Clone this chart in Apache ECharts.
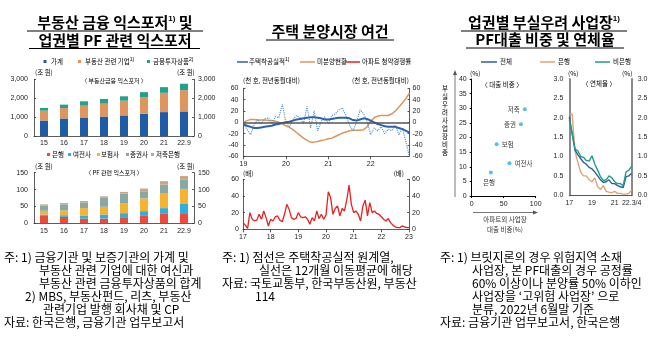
<!DOCTYPE html>
<html><head><meta charset="utf-8">
<script src="https://cdn.jsdelivr.net/npm/echarts@6/dist/echarts.min.js"></script>
<style>html,body{margin:0;padding:0;background:#fff}#c{width:660px;height:337px}</style>
</head><body><div id="c"></div>
<script>
const NF = "'Liberation Sans','Noto Sans CJK KR',sans-serif";
const KF = "'Noto Sans CJK KR','Liberation Sans',sans-serif";

// ---------- Panel 1 data ----------
const expYears = ['15','16','17','18','19','20','21','22.9'];
const household = [820, 930, 980, 1030, 1090, 1180, 1265, 1300];
const reCorp    = [520, 550, 625, 680, 780, 870, 1020, 1125];
const finInv    = [145, 180, 230, 250, 230, 270, 300, 340];
const pfBank = [22, 19, 14, 14, 18, 22, 28, 30];
const pfCard = [4, 5, 8, 12, 12, 14, 17, 29];
const pfIns  = [11, 14, 23, 23, 30, 38, 43, 43];
const pfSec  = [16, 18, 17, 28, 28, 21, 27, 28];
const pfSav  = [3, 4, 4, 3, 5, 8, 10, 10];

// ---------- Panel 2 data (monthly 2019.1 - 2022.12) ----------
const startsRaw = [-3,-12,-22,-5,5,-3,6,8,-2,10,8,32, 0,-8,5,12,8,-2,28,-10,20,-15,2,10,
                   -2,12,15,22,25,12,-5,-15,0,22,15,2, -22,-10,-15,-8,-20,-12,-15,-5,-22,-10,-35,-62];
const startsMA  = [-4,-6,-8,-10,-10,-9,-8,-7,-6,-4,-3,-1, 0,1,3,5,6,7,8,9,9,8,7,5,
                   5,6,7,8,8,8,7,4,3,5,7,6, 3,0,-3,-5,-7,-8,-8,-8,-10,-12,-15,-18];
const unsold    = [0,3,5,5,4,4,4,3,3,2,0,-3, -6,-9,-13,-18,-23,-28,-32,-35,-35,-34,-32,-31,
                   -29,-28,-25,-22,-19,-17,-15,-14,-14,-14,-13,-8, 2,8,11,12,12,12,15,20,27,34,42,52];
// 아파트 청약경쟁률 (monthly 2017.1 - 2023.1)
const aptComp = [8,5,1,20,12,10,11,18,12,22,14,4, 12,10,15,16,11,9,18,30,24,14,12,13,
                 20,15,14,15,12,6,14,10,22,13,18,12, 17,45,38,18,25,28,16,25,22,35,53,30,
                 20,22,18,10,28,35,16,32,20,22,19,18, 15,12,10,13,8,5,3,2,2,4,3,2, 2];

// ---------- Panel 3 data ----------
const riskNames = ['저축','증권','보험','여전사','은행'];
const aptExShare = [83, 77, 39, 59, 30];
const riskShare  = [29.7, 24.5, 17.7, 11.2, 8.0];
const delqQuarters = ['17.1','17.2','17.3','17.4','18.1','18.2','18.3','18.4','19.1','19.2','19.3','19.4',
                      '20.1','20.2','20.3','20.4','21.1','21.2','21.3','21.4','22.1','22.2','22.3'];
const delqTotal = [2.02,1.6,1.17,1.05,0.95,0.85,0.8,0.72,0.68,0.6,0.5,0.4,0.33,0.35,0.4,0.3,0.3,0.25,0.22,0.2,0.48,0.5,0.57];
const delqBank  = [2.1,2.1,1.15,0.85,0.6,0.5,0.5,0.4,0.35,0.45,0.22,0.15,0.25,0.1,0.08,0.07,0.1,0.05,0.05,0.03,0.03,0.05,0.14];
const delqNonBk = [1.95,1.6,1.2,1.15,1.0,0.98,0.9,0.88,1.02,0.8,0.65,0.48,0.38,0.4,0.5,0.45,0.35,0.3,0.3,0.25,0.6,0.65,0.75];

// category labels
const m19 = []; for (let y = 19; y <= 22; y++) for (let m = 1; m <= 12; m++) m19.push(y + '.' + m);
const m17 = []; for (let y = 17; y <= 22; y++) for (let m = 1; m <= 12; m++) m17.push(y + '.' + m); m17.push('23.1');

// colors
const C = {hh:'#1f5ca8', corp:'#e0955c', fin:'#1fa38a', bank:'#ec4a3a', card:'#2bb0e2', ins:'#f6b42e', sec:'#88a8a6', sav:'#c9a57f',
  blue:'#2b62ad', blueDot:'#4a88cc', orange:'#d9975f', red:'#e4231f', tBlue:'#2c5ea8', tOrange:'#e2a374', tTeal:'#1c9e88', dot:'#2ab2e4'};

// ---------- graphic helpers ----------
const g = [];
function T(x, y, text, size, o) {
  o = o || {};
  g.push({type:'text', x:x, y:y, silent:true, z:100, style:{text:text, fill:o.color||'#000', fontSize:size,
    fontFamily:o.fam||KF, fontWeight:o.bold?'bold':'normal', align:o.align||'left', verticalAlign:o.va||'middle',
    lineHeight:o.lh, rich:o.rich}});
}
function L(x1,y1,x2,y2,color,w){ g.push({type:'line', silent:true, z:100, shape:{x1,y1,x2,y2}, style:{stroke:color||'#000', lineWidth:w||1}}); }
function R(x,y,w,h,color){ g.push({type:'rect', silent:true, z:100, shape:{x,y,width:w,height:h}, style:{fill:color}}); }
function P(points,color){ g.push({type:'polygon', silent:true, z:100, shape:{points}, style:{fill:color}}); }
const supRich = {s:{fontSize:8, fontWeight:'bold', fontFamily:NF, verticalAlign:'top', padding:[0,0,6,0]}};
const supSmall = {s:{fontSize:5, fontFamily:NF, padding:[0,0,4,0]}};

// Titles
T(115, 22, '부동산 금융 익스포저{s|1)} 및', 15, {bold:true, align:'center', rich:supRich});
L(27, 31, 203, 31, '#000', 1);
T(115, 40, '업권별 PF 관련 익스포저', 15, {bold:true, align:'center'});
L(29, 48.5, 200, 48.5, '#000', 1);
T(330, 31, '주택 분양시장 여건', 15, {bold:true, align:'center'});
L(266, 40, 394, 40, '#000', 1);
T(544, 22, '업권별 부실우려 사업장{s|1)}', 15, {bold:true, align:'center', rich:supRich});
L(461, 31, 627, 31, '#000', 1);
T(545, 39.5, 'PF대출 비중 및 연체율', 15, {bold:true, align:'center'});
L(466, 48, 624, 48, '#000', 1);

// Panel 1 legends & texts
R(43.5, 60, 3, 3, C.hh);   T(51, 62, '가계', 6.5);
R(78, 60, 3, 3, C.corp);   T(85, 62, '부동산 관련 기업{s|1)}', 6.5, {rich:supSmall});
R(147, 60, 3, 3, C.fin);   T(153, 62, '금융투자상품{s|2)}', 6.5, {rich:supSmall});
T(35, 73, '(조 원)', 6.5); T(177, 73, '(조 원)', 6.5);
T(114, 81, '〈 부동산금융 익스포저 〉', 6, {align:'center'});
R(47, 153, 3, 3, C.bank);  T(52, 154.5, '은행', 6.5);
R(68, 153, 3, 3, C.card);  T(73, 154.5, '여전사', 6.5);
R(97, 153, 3, 3, C.ins);   T(101, 154.5, '보험사', 6.5);
R(126, 153, 3, 3, C.sec);  T(130, 154.5, '증권사', 6.5);
R(151, 153, 3, 3, C.sav);  T(156, 154.5, '저축은행', 6.5);
T(35, 166.5, '(조 원)', 6.5); T(177, 166.5, '(조 원)', 6.5);
T(114, 172.5, '〈 PF 관련 익스포저 〉', 6, {align:'center'});

// Panel 2 legends & texts
L(237, 62, 248, 62, C.blue, 1.5);   T(249, 62, '주택착공실적{s|1)}', 6.5, {rich:supSmall});
L(300, 62, 315, 62, C.orange, 1.5); T(317, 62, '미분양현황', 6.5);
L(345, 62, 360, 62, C.red, 1.5);    T(362, 62, '아파트 청약경쟁률', 6.5);
T(243, 80.5, '(천 호, 전년동월대비)', 6.5); T(409, 80.5, '(천 호, 전년동월대비)', 6.5, {align:'right'});
T(243, 174, '(배)', 6.5); T(404, 174, '(배)', 6.5, {align:'right'});

// Panel 3 legends & texts
L(481, 62, 497, 62, C.tBlue, 1.5);   T(500, 62, '전체', 6.5);
L(540, 62, 555, 62, C.tOrange, 1.5); T(558, 62, '은행', 6.5);
L(595, 62, 610, 62, C.tTeal, 1.5);   T(613, 62, '비은행', 6.5);
T(470, 74, '(%)', 6.5); T(568, 74, '(%)', 6.5); T(622, 74, '(%)', 6.5);
T(502, 85, '〈 대출 비중 〉', 6.5, {align:'center'});
T(599, 84, '〈 연체율 〉', 6.5, {align:'center'});
// vertical arrow + label
L(455, 197, 455, 72, '#555', 0.8); P([[453,75],[457,75],[455,70]], '#555');
T(445, 121, '부\n실\n우\n려\n사\n업\n장\n비\n중', 6.5, {align:'center', lh:8});
// horizontal arrow + label
L(473, 212.5, 535, 212.5, '#555', 0.8); P([[533,210.5],[533,214.5],[538,212.5]], '#555');
T(505, 220, '아파트외 사업장', 6.5, {align:'center', color:'#333'});
T(505, 230, '대출 비중(%)', 6.5, {align:'center', color:'#333'});

// Notes
const NS = 12;
T(4, 257, '주: 1) 금융기관 및 보증기관의 가계 및', NS);
T(39, 270, '부동산 관련 기업에 대한 여신과', NS);
T(39, 283, '부동산 관련 금융투자상품의 합계', NS);
T(25, 296, '2) MBS, 부동산펀드, 리츠, 부동산', NS);
T(43, 309, '관련기업 발행 회사채 및 CP', NS);
T(4, 322, '자료: 한국은행, 금융기관 업무보고서', NS);

T(222, 257, '주: 1) 점선은 주택착공실적 원계열,', NS);
T(259, 270, '실선은 12개월 이동평균에 해당', NS);
T(222, 283, '자료: 국토교통부, 한국부동산원, 부동산', NS);
T(255, 296, '114', NS);

T(440, 257, '주: 1) 브릿지론의 경우 위험지역 소재', NS);
T(472, 270, '사업장, 본 PF대출의 경우 공정률', NS);
T(472, 283, '60% 이상이나 분양률 50% 이하인', NS);
T(472, 296, '사업장을 \u2018고위험 사업장\u2019 으로', NS);
T(472, 309, '분류, 2022년 6월말 기준', NS);
T(440, 322, '자료: 금융기관 업무보고서, 한국은행', NS);

// ---------- axes ----------
const AL = {fontSize:7, color:'#222', fontFamily:NF};
const axLine = {show:true, lineStyle:{color:'#333', width:0.8}};
function yAx(grid, min, max, interval, pos, margin, fmt, extra) {
  return Object.assign({type:'value', gridIndex:grid, min, max, interval, position:pos,
    axisLine:axLine, axisTick:{show:true, inside:true, length:2, lineStyle:{color:'#333', width:0.8}},
    splitLine:{show:false}, axisLabel:Object.assign({margin, formatter:fmt}, AL)}, extra||{});
}
const fmtComma = v => v.toLocaleString('en-US');

const xAxes = [
  {type:'category', gridIndex:0, data:expYears, axisLine:axLine, axisTick:{show:false}, axisLabel:Object.assign({margin:4}, AL)},
  {type:'category', gridIndex:1, data:expYears, axisLine:axLine, axisTick:{show:false}, axisLabel:Object.assign({margin:4}, AL)},
  {type:'category', gridIndex:2, data:m19, boundaryGap:false, axisLine:Object.assign({onZero:false}, axLine),
    axisTick:{show:true, interval:(i)=>i%12===0, length:3, lineStyle:{color:'#333', width:0.8}},
    axisLabel:Object.assign({margin:4, interval:(i)=>i%12===0, formatter:v=>v.split('.')[0]}, AL)},
  {type:'category', gridIndex:3, data:m17, boundaryGap:false, axisLine:axLine,
    axisTick:{show:true, interval:(i)=>i%12===0, length:3, lineStyle:{color:'#333', width:0.8}},
    axisLabel:Object.assign({margin:4, interval:(i)=>i%12===0, formatter:v=>v.split('.')[0]}, AL)},
  {type:'value', gridIndex:4, min:0, max:100, interval:50, axisLine:{show:true, lineStyle:{color:'#000', width:1}},
    axisTick:{show:true, length:2, lineStyle:{color:'#000'}}, splitLine:{show:false}, axisLabel:Object.assign({margin:5}, AL)},
  {type:'category', gridIndex:5, data:delqQuarters, boundaryGap:false, axisLine:{show:true, lineStyle:{color:'#555', width:1}},
    axisTick:{show:false},
    axisLabel:Object.assign({margin:4, interval:(i)=>i===0||i===8||i===16||i===22,
      formatter:(v,i)=>({0:'17',8:'19',16:'21',22:'22.3/4'})[i]||''}, AL)}
];
const f1 = v => v.toFixed(1);
const greyAx = {axisLine:{show:true, lineStyle:{color:'#8a8a8a', width:2}}, axisTick:{show:false}};
const yAxes = [
  yAx(0, 0, 3000, 1000, 'left', 6, fmtComma),
  yAx(0, 0, 3000, 1000, 'right', 4, fmtComma),
  yAx(1, 0, 150, 50, 'left', 6),
  yAx(1, 0, 150, 50, 'right', 4),
  yAx(2, -60, 60, 20, 'left', 5),
  yAx(2, -60, 60, 20, 'right', 3),
  yAx(3, 0, 60, 20, 'left', 4),
  yAx(3, 0, 60, 20, 'right', 3),
  yAx(4, 0, 40, 5, 'left', 5, null, {axisLine:{show:true, lineStyle:{color:'#000', width:1}}, axisTick:{show:true, length:2, lineStyle:{color:'#000'}}}),
  yAx(5, 0, 3, 0.5, 'left', 6, f1, greyAx),
  yAx(5, 0, 3, 0.5, 'right', 6, f1, greyAx)
];

const grids = [
  {left:34, width:160, top:79.3, height:56.7},
  {left:34, width:160, top:172.7, height:50.6},
  {left:243.5, width:166, top:88.3, height:68},
  {left:243, width:166, top:179.3, height:50},
  {left:471.7, width:64, top:79, height:117},
  {left:569.3, width:62.4, top:79, height:116.3}
];

function bar(name, data, color, xi, yi, stack) {
  return {type:'bar', name, data, xAxisIndex:xi, yAxisIndex:yi, stack, barWidth:8, itemStyle:{color}, silent:true};
}
function line(name, data, color, xi, yi, w, type, extra) {
  return Object.assign({type:'line', name, data, xAxisIndex:xi, yAxisIndex:yi, symbol:'none', silent:true,
    lineStyle:{color, width:w, type:type||'solid'}}, extra||{});
}

const series = [
  bar('가계', household, C.hh, 0, 0, 'a'),
  bar('부동산 관련 기업', reCorp, C.corp, 0, 0, 'a'),
  bar('금융투자상품', finInv, C.fin, 0, 0, 'a'),
  bar('은행', pfBank, C.bank, 1, 2, 'b'),
  bar('여전사', pfCard, C.card, 1, 2, 'b'),
  bar('보험사', pfIns, C.ins, 1, 2, 'b'),
  bar('증권사', pfSec, C.sec, 1, 2, 'b'),
  bar('저축은행', pfSav, C.sav, 1, 2, 'b'),
  line('미분양현황', unsold, C.orange, 2, 4, 1.5, 'solid', {markLine:{silent:true, symbol:'none', label:{show:false},
      lineStyle:{color:'#555', width:1.5, type:'solid'}, data:[{yAxis:0}]}}),
  line('주택착공실적(원계열)', startsRaw, C.blueDot, 2, 4, 1.1, 'dotted'),
  line('주택착공실적', startsMA, C.blue, 2, 4, 2),
  line('아파트 청약경쟁률', aptComp, C.red, 3, 6, 1.3),
  {type:'scatter', xAxisIndex:4, yAxisIndex:8, symbolSize:4, silent:true, itemStyle:{color:C.dot},
    data: riskNames.map((n,i)=>({name:n, value:[aptExShare[i], riskShare[i]],
      label:{show:true, formatter:n, fontSize:6.5, color:'#000', fontFamily:KF,
        position: ({'저축':'left','증권':'left','보험':'right','여전사':'right','은행':'bottom'})[n],
        distance: 3, offset: n==='은행' ? [-2, 2] : [0,0]}}))},
  line('은행', delqBank, C.tOrange, 5, 9, 1.4),
  line('전체', delqTotal, C.tBlue, 5, 9, 1.4),
  line('비은행', delqNonBk, C.tTeal, 5, 9, 1.4)
];

const chart = echarts.init(document.getElementById('c'), null, {renderer:'canvas'});
chart.setOption({animation:false, backgroundColor:'#fff', grid:grids, xAxis:xAxes, yAxis:yAxes, series, graphic:g});
</script></body></html>
